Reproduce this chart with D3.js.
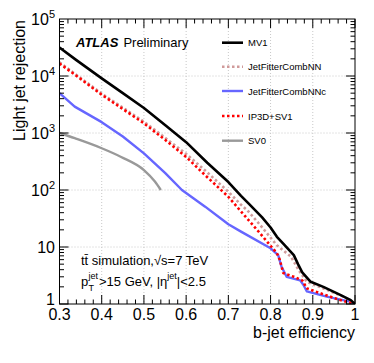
<!DOCTYPE html>
<html><head><meta charset="utf-8">
<script src="https://cdn.jsdelivr.net/npm/d3@7"></script>
<style>body{margin:0;background:#fff}svg{display:block;font-family:"Liberation Sans",Arial,sans-serif}</style>
</head><body><svg id="c" width="374" height="363"></svg>
<script>
// ---- data ----
const mv1Eff = [0.30,0.34,0.40,0.45,0.50,0.55,0.60,0.65,0.70,0.73,0.75,0.78,0.80,0.815,0.83,0.855,0.865,0.875,0.895,0.925,0.965,0.99,1.0];
const mv1Rej = [31600,19000,9100,5000,2750,1380,690,300,138,79,56,33,22,15.1,11.5,7.2,5.0,3.6,2.45,2.0,1.45,1.17,1.0];
const jfnnEff = [0.30,0.40,0.50,0.60,0.65,0.70,0.73,0.745,0.775,0.815,0.848,0.866,0.886,0.925,0.972,1.0];
const jfnnRej = [17400,4900,1580,430,204,93,55,44,24.5,10.7,6.8,4.0,2.45,1.88,1.35,1.0];
const jfnncEff = [0.30,0.336,0.40,0.45,0.50,0.55,0.59,0.645,0.70,0.73,0.80,0.818,0.826,0.838,0.87,0.878,0.886,0.933,0.988,1.0];
const jfnncRej = [5000,2900,1550,870,440,200,100,51,25,18.6,9.5,7.2,4.5,3.0,2.6,2.15,1.66,1.35,1.1,1.0];
const ipEff = [0.30,0.35,0.40,0.45,0.50,0.55,0.60,0.645,0.70,0.73,0.775,0.80,0.815,0.822,0.83,0.855,0.875,0.886,0.917,0.965,1.0];
const ipRej = [16600,8900,4700,2630,1480,760,380,182,76,42,17.4,10.5,7.8,5.9,3.5,3.0,2.6,1.88,1.55,1.17,1.0];
const sv0Eff = [0.30,0.336,0.40,0.446,0.50,0.526,0.54];
const sv0Rej = [1000,810,540,380,224,141,100];
const seriesNames = ["MV1","JetFitterCombNN","JetFitterCombNNc","IP3D+SV1","SV0"];
const xTicks = [0.3,0.4,0.5,0.6,0.7,0.8,0.9,1];
const xTickLabels = ["0.3","0.4","0.5","0.6","0.7","0.8","0.9","1"];
const yTicks = [1,10,100,1000,10000,100000];

const series = [
  {name:seriesNames[0], eff:mv1Eff, rej:mv1Rej, color:"#000", w:2.6, dash:null, curve:d3.curveLinear},
  {name:seriesNames[1], eff:jfnnEff, rej:jfnnRej, color:"#d09a9a", w:2.6, dash:"2.5,2.5", curve:d3.curveLinear},
  {name:seriesNames[2], eff:jfnncEff, rej:jfnncRej, color:"#6666ff", w:2.4, dash:null, curve:d3.curveLinear},
  {name:seriesNames[3], eff:ipEff, rej:ipRej, color:"#ff0000", w:2.6, dash:"2.5,2.5", curve:d3.curveLinear},
  {name:seriesNames[4], eff:sv0Eff, rej:sv0Rej, color:"#999", w:2.4, dash:null, curve:d3.curveMonotoneX}
];

const L=59.5, R=355, T=19, B=304;
const x = d3.scaleLinear().domain([0.3,1]).range([L,R]);
const y = d3.scaleLog().domain([1,1e5]).range([B,T]);
const svg = d3.select("#c");

// grid
const g = svg.append("g");
xTicks.filter(v=>v>0.31&&v<0.99).forEach(v=>{
  g.append("line").attr("x1",x(v)).attr("x2",x(v)).attr("y1",T).attr("y2",B)
   .attr("stroke","#c8c8c8").attr("stroke-width",1).attr("stroke-dasharray","1,2");
});
yTicks.filter(v=>v>1&&v<1e5).forEach(v=>{
  g.append("line").attr("x1",L).attr("x2",R).attr("y1",y(v)).attr("y2",y(v))
   .attr("stroke","#c8c8c8").attr("stroke-width",1).attr("stroke-dasharray","1,2");
});

// curves
svg.append("clipPath").attr("id","cp").append("rect").attr("x",L).attr("y",T).attr("width",R-L).attr("height",B-T);
[4,2,1,3,0].forEach(i=>{
  const s=series[i];
  const line = d3.line().x(d=>x(d[0])).y(d=>y(d[1])).curve(s.curve);
  const pts=s.eff.map((e,k)=>[e,s.rej[k]]);
  svg.append("path").attr("d",line(pts)).attr("fill","none").attr("stroke",s.color)
    .attr("stroke-width",s.w).attr("stroke-dasharray",s.dash).attr("stroke-linejoin","round")
    .attr("clip-path","url(#cp)");
});

// frame
svg.append("rect").attr("x",L).attr("y",T).attr("width",R-L).attr("height",B-T)
  .attr("fill","none").attr("stroke","#000").attr("stroke-width",1);

// x ticks (inward, bottom and top)
const ax = svg.append("g").attr("stroke","#000").attr("stroke-width",1);
for(let k=0;k<=35;k++){
  const v=0.3+k*0.02; const major=(k%5===0); const len=major?9:4.5;
  ax.append("line").attr("x1",x(v)).attr("x2",x(v)).attr("y1",B).attr("y2",B-len);
  ax.append("line").attr("x1",x(v)).attr("x2",x(v)).attr("y1",T).attr("y2",T+len);
}
// y ticks (inward, left and right)
for(let d=0; d<5; d++){
  for(let m=1;m<=9;m++){
    const v=Math.pow(10,d)*m; const len=(m===1)?9:4.5;
    ax.append("line").attr("x1",L).attr("x2",L+len).attr("y1",y(v)).attr("y2",y(v));
    ax.append("line").attr("x1",R).attr("x2",R-len).attr("y1",y(v)).attr("y2",y(v));
  }
}

// x tick labels
xTicks.forEach((v,i)=>{
  svg.append("text").attr("x",x(v)).attr("y",320).attr("text-anchor","middle")
    .attr("font-size",16).text(xTickLabels[i]);
});
// y tick labels
yTicks.forEach(v=>{
  const e=Math.round(Math.log10(v));
  const t=svg.append("text").attr("x",55).attr("y",y(v)+(e===0?1:6)).attr("text-anchor","end").attr("font-size",16);
  if(e===0) t.text("1");
  else if(e===1) t.text("10");
  else { t.append("tspan").text("10"); t.append("tspan").attr("font-size",11).attr("dy",-7).text(e); }
});

// axis titles
svg.append("text").attr("x",R).attr("y",338).attr("text-anchor","end").attr("font-size",16).text("b-jet efficiency");
svg.append("text").attr("transform",`translate(25,${T+1}) rotate(-90)`).attr("text-anchor","end")
  .attr("font-size",16).text("Light jet rejection");

// ATLAS label
const at = svg.append("text").attr("x",76).attr("y",47).attr("font-size",13);
at.append("tspan").attr("font-weight","bold").attr("font-style","italic").text("ATLAS");
at.append("tspan").attr("dx",5).text("Preliminary");

// legend
const ly=[42.7,66.7,91,116,140.7];
series.forEach((s,i)=>{
  svg.append("line").attr("x1",222).attr("x2",243).attr("y1",ly[i]).attr("y2",ly[i])
    .attr("stroke",s.color).attr("stroke-width",s.w).attr("stroke-dasharray",s.dash);
  svg.append("text").attr("x",248).attr("y",ly[i]+3.5).attr("font-size",9.5).text(s.name);
});

// annotation
svg.append("text").attr("x",81).attr("y",265).attr("font-size",13).text("tt\u0304 simulation,\u221As=7 TeV");
const py = 286;
svg.append("text").attr("x",81).attr("y",py).attr("font-size",13).text("p");
svg.append("text").attr("x",88.5).attr("y",py-7).attr("font-size",9).text("jet");
svg.append("text").attr("x",88.5).attr("y",py+5).attr("font-size",9).text("T");
const a2 = svg.append("text").attr("x",99).attr("y",py).attr("font-size",13);
a2.append("tspan").text(">15 GeV, |\u03B7");
a2.append("tspan").attr("font-size",9).attr("dy",-7).text("jet");
a2.append("tspan").attr("dy",7).text("|<2.5");
</script></body></html>
